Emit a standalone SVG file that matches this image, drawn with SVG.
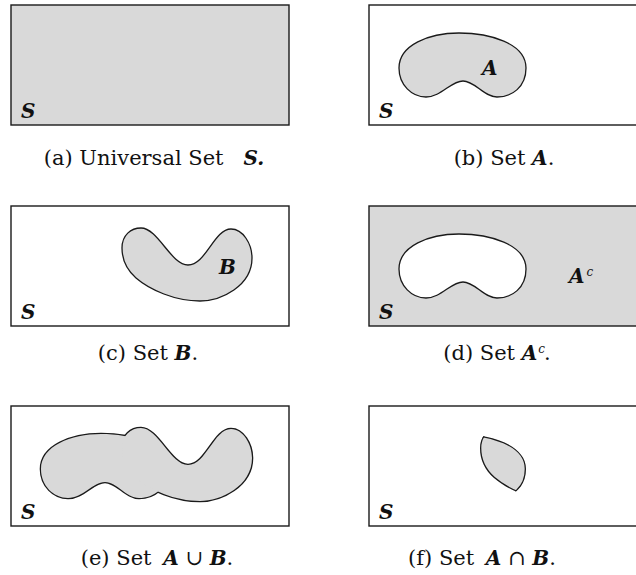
<svg xmlns="http://www.w3.org/2000/svg" width="636" height="575" viewBox="0 0 636 575">
<style>
.bg{fill:#fff}
.frame{fill:none;stroke:#1a1a1a;stroke-width:1.4}
.gray{fill:#d9d9d9}
.blob{fill:#d9d9d9;stroke:#1a1a1a;stroke-width:1.3}
.hole{fill:#fff;stroke:#1a1a1a;stroke-width:1.3}
.thick{fill:#d9d9d9;stroke:#1a1a1a;stroke-width:2.6}
.fillonly{fill:#d9d9d9;stroke:none}
.line2{fill:none;stroke:#1a1a1a;stroke-width:2.6}
text{font-family:"DejaVu Serif","Liberation Serif",serif;fill:#111}
.cap{font-size:21px;text-anchor:middle}
.m{font-size:20px;font-weight:bold;font-style:italic}
.sup{font-size:12px;font-style:italic;font-weight:normal}
</style>
<defs>
<path id="pA" d="M 30,63 C 30,40 60,28 90,28 C 120,28 157,38 157,63 C 157,82 143,92 128,92 C 115,92 106,76 94,76 C 82,76 72,92 57,92 C 43,92 30,80 30,63 Z"/>
<path id="pB" d="M 111,42 C 111,29 120,22 130,22 C 147,22 160,59 177,59 C 195,59 203,23 220,23 C 232,23 241,38 241,52 C 241,80 210,95 189,95 C 164,95 139,84 125,72 C 116,64 111,54 111,42 Z"/>
<clipPath id="cA"><use href="#pA"/></clipPath>
<clipPath id="cB"><use href="#pB"/></clipPath>
</defs>
<rect x="0" y="0" width="636" height="575" class="bg"/>

<g id="panel-a">
<rect x="11" y="5" width="278" height="120" class="gray"/>
<rect x="11" y="5" width="278" height="120" class="frame"/>
<text x="21" y="118" class="m">S</text>
<text x="154" y="165" class="cap">(a) Universal Set<tspan dx="20" class="m">S.</tspan></text>
</g>

<g id="panel-b">
<g transform="translate(369,5)">
<rect x="0" y="0" width="278" height="120" class="frame"/>
<use href="#pA" class="blob"/>
<text x="113" y="70" class="m">A</text>
<text x="10" y="113" class="m">S</text>
</g>
<text x="504" y="165" class="cap">(b) Set <tspan class="m">A</tspan>.</text>
</g>

<g id="panel-c">
<g transform="translate(11,206)">
<rect x="0" y="0" width="278" height="120" class="frame"/>
<use href="#pB" class="blob"/>
<text x="208" y="68" class="m">B</text>
<text x="10" y="113" class="m">S</text>
</g>
<text x="148" y="360" class="cap">(c) Set <tspan class="m">B</tspan>.</text>
</g>

<g id="panel-d">
<g transform="translate(369,206)">
<rect x="0" y="0" width="278" height="120" class="gray"/>
<rect x="0" y="0" width="278" height="120" class="frame"/>
<use href="#pA" class="hole"/>
<text x="200" y="77" class="m">A<tspan class="sup" dx="2" dy="-7">c</tspan></text>
<text x="10" y="113" class="m">S</text>
</g>
<text x="497" y="360" class="cap">(d) Set <tspan class="m">A</tspan><tspan class="sup" dx="1" dy="-7">c</tspan><tspan dx="-1" dy="7">.</tspan></text>
</g>

<g id="panel-e">
<g transform="translate(11,406)">
<rect x="0" y="0" width="278" height="120" class="frame"/>
<use href="#pA" class="thick"/>
<use href="#pB" class="thick"/>
<use href="#pA" class="fillonly"/>
<use href="#pB" class="fillonly"/>
<text x="10" y="113" class="m">S</text>
</g>
<text x="157" y="565" class="cap">(e) Set <tspan dx="5" class="m">A</tspan> ∪ <tspan class="m">B</tspan>.</text>
</g>

<g id="panel-f">
<g transform="translate(369,406)">
<rect x="0" y="0" width="278" height="120" class="frame"/>
<g clip-path="url(#cA)">
<g clip-path="url(#cB)">
<use href="#pA" class="fillonly"/>
<use href="#pA" class="line2"/>
<use href="#pB" class="line2"/>
</g>
</g>
<text x="10" y="113" class="m">S</text>
</g>
<text x="482" y="565" class="cap">(f) Set <tspan dx="5" class="m">A</tspan> ∩ <tspan class="m">B</tspan>.</text>
</g>
</svg>
